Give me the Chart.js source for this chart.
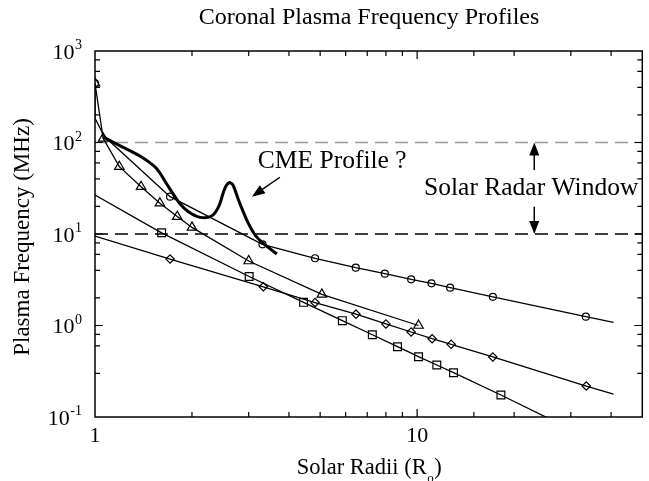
<!DOCTYPE html>
<html>
<head>
<meta charset="utf-8">
<script src="https://cdn.jsdelivr.net/npm/chart.js@4.4.0/dist/chart.umd.min.js"></script>
<style>
  html, body { margin: 0; padding: 0; background: #fff; }
</style>
</head>
<body>
<canvas id="myChart" width="649" height="481"></canvas>
<script>
// values (x in solar radii, y in MHz)
const circX = [1, 1, 1.07, 1.71, 3.31, 4.82, 6.45, 7.94, 9.58, 11.08, 12.66, 17.18, 33.4, 40.7];
const circY = [444, 184, 116, 25.6, 7.72, 5.43, 4.28, 3.68, 3.20, 2.89, 2.59, 2.06, 1.25, 1.08];
const circNoMark = [1, 2, 13];

const triX = [1, 1.06, 1.19, 1.39, 1.59, 1.8, 2.0, 3.0, 5.06, 10.1];
const triY = [444, 111, 54.4, 32.9, 21.7, 15.5, 11.8, 5.07, 2.19, 1.0];
const triNoMark = [];

const sqX = [1, 1.61, 3.01, 4.44, 5.86, 7.26, 8.69, 10.1, 11.51, 12.97, 18.2, 26];
const sqY = [26.7, 10.3, 3.43, 1.79, 1.13, 0.793, 0.587, 0.456, 0.370, 0.305, 0.174, 0.094];
const sqNoMark = [0, 11];

const diaX = [1, 1.71, 3.33, 4.82, 6.46, 8.0, 9.58, 11.13, 12.75, 17.18, 33.5, 40.7];
const diaY = [9.5, 5.33, 2.65, 1.78, 1.33, 1.04, 0.849, 0.717, 0.623, 0.453, 0.218, 0.178];
const diaNoMark = [0, 11];

const cmeX = [1.06, 1.21, 1.39, 1.55, 1.69, 1.83, 1.95, 2.12, 2.30, 2.42, 2.53, 2.61, 2.68, 2.79, 2.96, 3.14, 3.33, 3.67];
const cmeY = [115, 90, 70, 52.3, 32.9, 21.7, 17.5, 15.2, 15.7, 19.9, 31.6, 36.4, 34.3, 23.5, 14.2, 9.75, 7.91, 6.04];

// radar window limits and the axis ranges
const windowLow = 10;
const windowHigh = 100;
const xRange = [1, 50];
const yRange = [0.1, 1000];
const xTickLabels = [1, 10];
const yTickExp = [-1, 0, 1, 2, 3];

const serif = 'Liberation Serif, Times New Roman, serif';

const pts = (xs, ys) => xs.map((x, i) => ({x: x, y: ys[i]}));
const radii = (xs, skip, r) => xs.map((x, i) => skip.includes(i) ? 0 : r);

function curve(xs, ys, skip, style, r) {
    return {
        data: pts(xs, ys),
        borderColor: '#000',
        borderWidth: 1.3,
        pointStyle: style,
        pointRadius: radii(xs, skip, r),
        pointBorderColor: '#000',
        pointBackgroundColor: 'rgba(0,0,0,0)',
        pointBorderWidth: 1.2,
        tension: 0,
        fill: false
    };
}

function arrow(ctx, x1, y1, x2, y2, len, half) {
    const a = Math.atan2(y2 - y1, x2 - x1);
    ctx.beginPath();
    ctx.moveTo(x1, y1);
    ctx.lineTo(x2 - Math.cos(a) * len * 0.8, y2 - Math.sin(a) * len * 0.8);
    ctx.stroke();
    ctx.beginPath();
    ctx.moveTo(x2, y2);
    ctx.lineTo(x2 - Math.cos(a) * len - Math.sin(a) * half, y2 - Math.sin(a) * len + Math.cos(a) * half);
    ctx.lineTo(x2 - Math.cos(a) * len + Math.sin(a) * half, y2 - Math.sin(a) * len - Math.cos(a) * half);
    ctx.closePath();
    ctx.fill();
}

// frame, inward ticks, labels and annotations
const decorations = {
    id: 'decorations',
    afterDraw(chart) {
        const ctx = chart.ctx;
        const xs = chart.scales.x, ys = chart.scales.y;
        const area = chart.chartArea;
        ctx.save();
        ctx.strokeStyle = '#000';
        ctx.fillStyle = '#000';

        ctx.lineWidth = 1.2;
        xs.ticks.forEach(t => {
            if (t.value <= xRange[0] || t.value >= xRange[1]) return;
            const px = xs.getPixelForValue(t.value);
            const len = Number.isInteger(Math.log10(t.value)) ? 8 : 5;
            ctx.beginPath();
            ctx.moveTo(px, area.bottom); ctx.lineTo(px, area.bottom - len);
            ctx.moveTo(px, area.top); ctx.lineTo(px, area.top + len);
            ctx.stroke();
        });
        ys.ticks.forEach(t => {
            if (t.value <= yRange[0] * 1.0001 || t.value >= yRange[1] * 0.9999) return;
            const py = ys.getPixelForValue(t.value);
            const len = Math.abs(Math.log10(t.value) - Math.round(Math.log10(t.value))) < 1e-6 ? 8 : 5;
            ctx.beginPath();
            ctx.moveTo(area.left, py); ctx.lineTo(area.left + len, py);
            ctx.moveTo(area.right, py); ctx.lineTo(area.right - len, py);
            ctx.stroke();
        });

        ctx.lineWidth = 1.5;
        ctx.strokeRect(area.left, area.top, area.right - area.left, area.bottom - area.top);

        // x tick labels
        ctx.font = '22px ' + serif;
        ctx.textAlign = 'center';
        ctx.textBaseline = 'alphabetic';
        xTickLabels.forEach(v => ctx.fillText(String(v), xs.getPixelForValue(v), area.bottom + 25));

        // y tick labels 10^n
        yTickExp.forEach(e => {
            const py = ys.getPixelForValue(Math.pow(10, e));
            ctx.font = '14px ' + serif;
            const sup = e < 0 ? '-' + Math.abs(e) : String(e);
            const ws = ctx.measureText(sup).width;
            ctx.textAlign = 'right';
            ctx.fillText(sup, 82, py - 2);
            ctx.font = '22px ' + serif;
            ctx.fillText('10', 82 - ws - 0.5, py + 7.5);
        });

        // axis titles
        ctx.font = '22.5px ' + serif;
        ctx.textAlign = 'left';
        const t1 = 'Solar Radii (R', t2 = 'o', t3 = ')';
        const w1 = ctx.measureText(t1).width, w3 = ctx.measureText(t3).width;
        ctx.font = '13px ' + serif;
        const w2 = ctx.measureText(t2).width;
        const xStart = (area.left + area.right) / 2 - (w1 + w2 + w3) / 2;
        ctx.font = '22.5px ' + serif;
        ctx.fillText(t1, xStart, 474);
        ctx.fillText(t3, xStart + w1 + w2 + 1, 474);
        ctx.font = '13px ' + serif;
        ctx.fillText(t2, xStart + w1 + 0.5, 482);

        ctx.save();
        ctx.translate(23, 237);
        ctx.rotate(-Math.PI / 2);
        ctx.font = '23px ' + serif;
        ctx.textAlign = 'center';
        ctx.textBaseline = 'middle';
        ctx.fillText('Plasma Frequency (MHz)', 0, 0);
        ctx.restore();

        // solar radar window arrows
        const ax = xs.getPixelForValue(23.1);
        ctx.lineWidth = 1.5;
        arrow(ctx, ax, ys.getPixelForValue(50), ax, ys.getPixelForValue(windowHigh), 13, 5);
        arrow(ctx, ax, ys.getPixelForValue(19.9), ax, ys.getPixelForValue(windowLow), 13, 5);
        ctx.font = '25.5px ' + serif;
        ctx.textAlign = 'center';
        ctx.textBaseline = 'middle';
        ctx.fillText('Solar Radar Window', xs.getPixelForValue(22.6), ys.getPixelForValue(31.6));

        // CME annotation
        ctx.fillText('CME Profile ?', xs.getPixelForValue(5.45), ys.getPixelForValue(63));
        arrow(ctx, xs.getPixelForValue(3.75), ys.getPixelForValue(41.7), xs.getPixelForValue(3.07), ys.getPixelForValue(25.6), 13, 5);

        ctx.restore();
    }
};

const ctx = document.getElementById('myChart').getContext('2d');

const datasets = [
    {
        data: pts(cmeX, cmeY),
        borderColor: '#000',
        borderWidth: 3,
        pointRadius: 0,
        tension: 0.3,
        fill: false
    },
    curve(circX, circY, circNoMark, 'circle', 3.5),
    curve(triX, triY, triNoMark, 'triangle', 5.5),
    curve(sqX, sqY, sqNoMark, 'rect', 5.5),
    curve(diaX, diaY, diaNoMark, 'rectRot', 4.2),
    {
        data: pts(xRange, [windowHigh, windowHigh]),
        borderColor: '#999',
        borderWidth: 1.3,
        borderDash: [13, 7],
        pointRadius: 0
    },
    {
        data: pts(xRange, [windowLow, windowLow]),
        borderColor: '#000',
        borderWidth: 1.3,
        borderDash: [13, 7],
        pointRadius: 0
    }
];

new Chart(ctx, {
    type: 'line',
    data: { datasets: datasets },
    options: {
        responsive: false,
        animation: false,
        layout: { padding: { left: 95, right: 6, top: 0, bottom: 64 } },
        plugins: {
            legend: { display: false },
            tooltip: { enabled: false },
            title: {
                display: true,
                text: 'Coronal Plasma Frequency Profiles',
                color: '#000',
                font: { family: serif, size: 24, weight: 'normal' },
                padding: { top: 3, bottom: 19.2 }
            }
        },
        scales: {
            x: { type: 'logarithmic', min: xRange[0], max: xRange[1], display: false },
            y: { type: 'logarithmic', min: yRange[0], max: yRange[1], display: false }
        }
    },
    plugins: [decorations]
});
</script>
</body>
</html>
